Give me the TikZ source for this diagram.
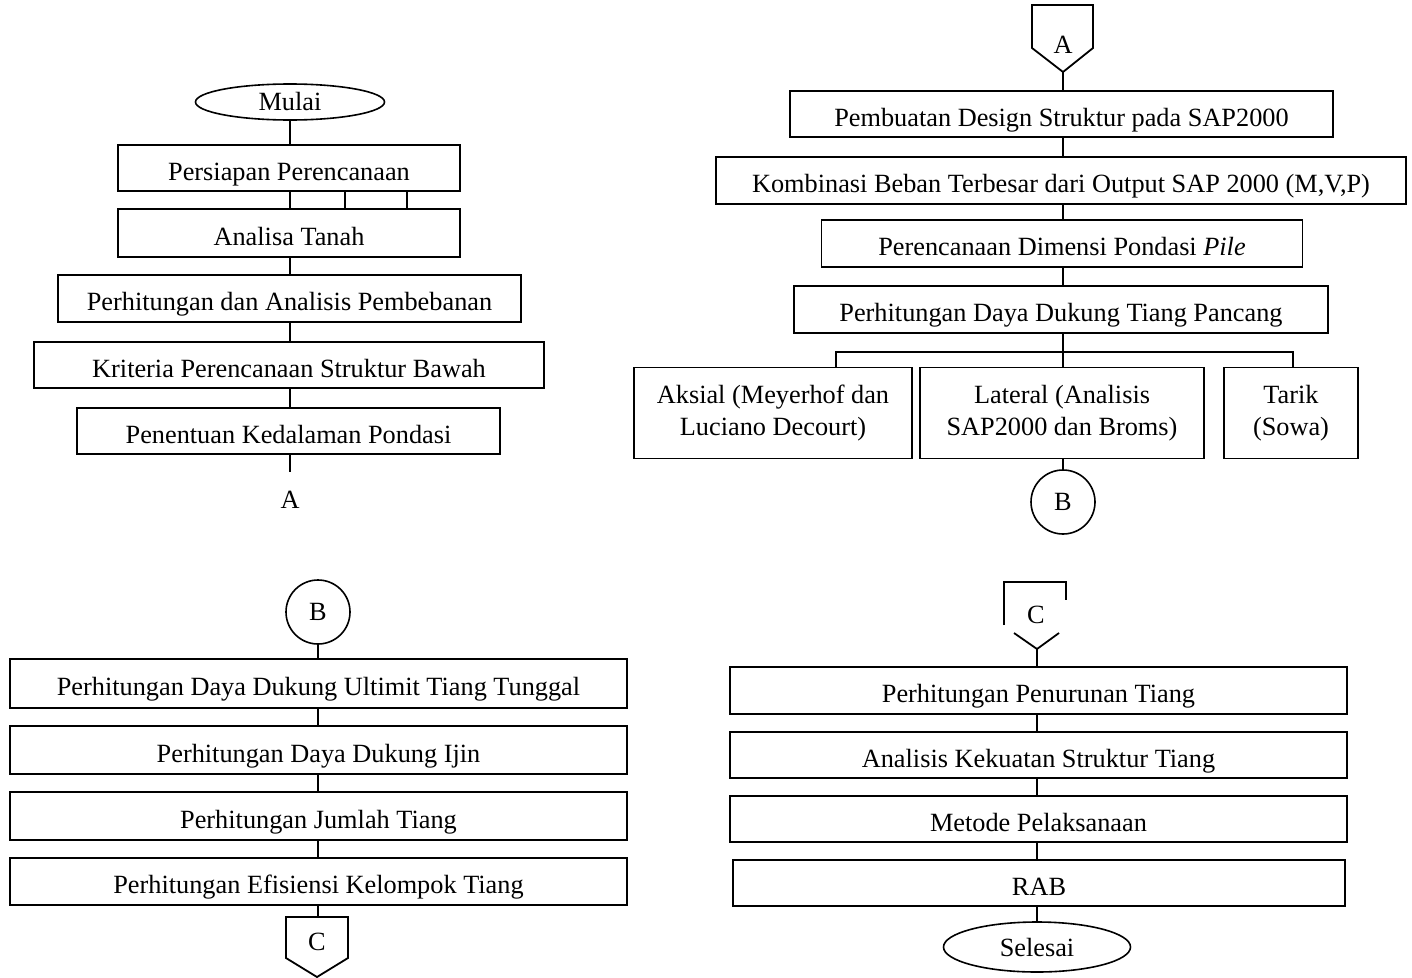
\documentclass[tikz,border=0pt]{standalone}
\usepackage{fontspec}
\setmainfont{Liberation Serif}
\usetikzlibrary{shapes.geometric}
\tikzset{
  ln/.style={line width=1.8pt},
  box/.style={draw, line width=1.8pt, rectangle, inner sep=0pt, align=center,
              font=\fontsize{26.3}{32}\selectfont},
  box1/.style={box, text height=24pt, text depth=0pt},
  term/.style={draw, line width=1.6pt, ellipse, inner sep=0pt,
              font=\fontsize{26.3}{32}\selectfont},
  conn/.style={draw, line width=1.6pt, circle, minimum size=64pt, inner sep=0pt,
              font=\fontsize{26.3}{32}\selectfont},
  lbl/.style={inner sep=0pt, font=\fontsize{26.3}{32}\selectfont},
}
\begin{document}
\begin{tikzpicture}[x=1pt,y=-1pt]
\useasboundingbox[fill=white] (0,0) rectangle (1412,977);

% ---------- top left ----------
\coordinate (axl) at (290,0);
\node[term, minimum width=189pt, minimum height=36pt] (mulai) at (290,102) {Mulai};
\node[box1, minimum width=342pt, minimum height=46pt] (p1) at (289,168) {Persiapan Perencanaan};
\node[box1, minimum width=342pt, minimum height=48pt] (p2) at (289,233) {Analisa Tanah};
\node[box1, minimum width=463pt, minimum height=47pt] (p3) at (289.5,298.5) {Perhitungan dan Analisis Pembebanan};
\node[box1, minimum width=510pt, minimum height=46pt] (p4) at (289,365) {Kriteria Perencanaan Struktur Bawah};
\node[box1, minimum width=423pt, minimum height=46pt] (p5) at (288.5,431) {Penentuan Kedalaman Pondasi};
\coordinate (aend) at (290,472);
\node[lbl] (alabel) at (290,500) {A};

\draw[ln] (mulai.south) -- (p1.north -| axl);
\draw[ln] (p1.south -| axl) -- (p2.north -| axl);
\draw[ln] ([xshift=55pt]p1.south -| axl) -- ([xshift=55pt]p2.north -| axl);
\draw[ln] ([xshift=117pt]p1.south -| axl) -- ([xshift=117pt]p2.north -| axl);
\draw[ln] (p2.south -| axl) -- (p3.north -| axl);
\draw[ln] (p3.south -| axl) -- (p4.north -| axl);
\draw[ln] (p4.south -| axl) -- (p5.north -| axl);
\draw[ln] (p5.south -| axl) -- (aend);

% ---------- top right ----------
\node[lbl] (atop) at (1063,45) {A};
\draw[ln, line join=miter] (1032,5) -- (1093,5) -- (1093,48) -- (1063,72) -- (1032,48) -- cycle;
\coordinate (atip) at (1063,72);
\node[box1, minimum width=543pt, minimum height=46pt] (q1) at (1061.5,114) {Pembuatan Design Struktur pada SAP2000};
\node[box1, minimum width=690pt, minimum height=47pt] (q2) at (1061,180.5) {Kombinasi Beban Terbesar dari Output SAP 2000 (M,V,P)};
\node[box1, minimum width=481pt, minimum height=47pt] (q3) at (1062,243.5) {Perencanaan Dimensi Pondasi \textit{Pile}};
\node[box1, minimum width=534pt, minimum height=47pt] (q4) at (1061,309.5) {Perhitungan Daya Dukung Tiang Pancang};
\node[box, minimum width=278pt, minimum height=91pt] (r1) at (773,413) {Aksial (Meyerhof dan\\Luciano Decourt)};
\node[box, minimum width=284pt, minimum height=91pt] (r2) at (1062,413) {Lateral (Analisis\\SAP2000 dan Broms)};
\node[box, minimum width=134pt, minimum height=91pt] (r3) at (1291,413) {Tarik\\(Sowa)};
\node[conn] (b1) at (1063,502) {B};
\coordinate (br) at (1063,352);
\coordinate (bl) at (836,352);
\coordinate (bri) at (1293,352);

\draw[ln] (atip) -- (atip |- q1.north);
\draw[ln] (q1.south -| atip) -- (q2.north -| atip);
\draw[ln] (q2.south -| atip) -- (q3.north -| atip);
\draw[ln] (q3.south -| atip) -- (q4.north -| atip);
\draw[ln] (q4.south -| br) -- (br);
\draw[ln] (r1.north -| bl) -- (bl) -- (bri) -- (r3.north -| bri);
\draw[ln] (br) -- (r2.north -| br);
\draw[ln] (r2.south -| b1) -- (b1.north);

% ---------- bottom left ----------
\coordinate (ctop) at (318,917);
\node[conn] (b2) at (318,612) {B};
\node[box1, minimum width=617pt, minimum height=49pt] (s1) at (318.5,683.5) {Perhitungan Daya Dukung Ultimit Tiang Tunggal};
\node[box1, minimum width=617pt, minimum height=48pt] (s2) at (318.5,750) {Perhitungan Daya Dukung Ijin};
\node[box1, minimum width=617pt, minimum height=48pt] (s3) at (318.5,816) {Perhitungan Jumlah Tiang};
\node[box1, minimum width=617pt, minimum height=47pt] (s4) at (318.5,881.5) {Perhitungan Efisiensi Kelompok Tiang};
\node[lbl] (cbot) at (317,942) {C};
\draw[ln, line join=miter] (286,917) -- (348,917) -- (348,958) -- (317,977) -- (286,958) -- cycle;

\draw[ln] (b2.south) -- (s1.north -| ctop);
\draw[ln] (s1.south -| ctop) -- (s2.north -| ctop);
\draw[ln] (s2.south -| ctop) -- (s3.north -| ctop);
\draw[ln] (s3.south -| ctop) -- (s4.north -| ctop);
\draw[ln] (s4.south -| ctop) -- (ctop);

% ---------- bottom right ----------
\node[lbl] (ctop2) at (1036,615) {C};
\draw[ln] (1004,625) -- (1004,582) -- (1066,582) -- (1066,600);
\draw[ln] (1014,633) -- (1037,649) -- (1059,633);
\coordinate (ctip) at (1037,649);
\node[box1, minimum width=617pt, minimum height=47pt] (t1) at (1038.5,690.5) {Perhitungan Penurunan Tiang};
\node[box1, minimum width=617pt, minimum height=46pt] (t2) at (1038.5,755) {Analisis Kekuatan Struktur Tiang};
\node[box1, minimum width=617pt, minimum height=46pt] (t3) at (1038.5,819) {Metode Pelaksanaan};
\node[box1, minimum width=612pt, minimum height=46pt] (t4) at (1039,883) {RAB};
\node[term, minimum width=187pt, minimum height=50pt] (selesai) at (1037,947) {Selesai};

\draw[ln] (ctip) -- (ctip |- t1.north);
\draw[ln] (t1.south -| ctip) -- (t2.north -| ctip);
\draw[ln] (t2.south -| ctip) -- (t3.north -| ctip);
\draw[ln] (t3.south -| ctip) -- (t4.north -| ctip);
\draw[ln] (t4.south -| ctip) -- (selesai.north -| ctip);
\end{tikzpicture}
\end{document}
